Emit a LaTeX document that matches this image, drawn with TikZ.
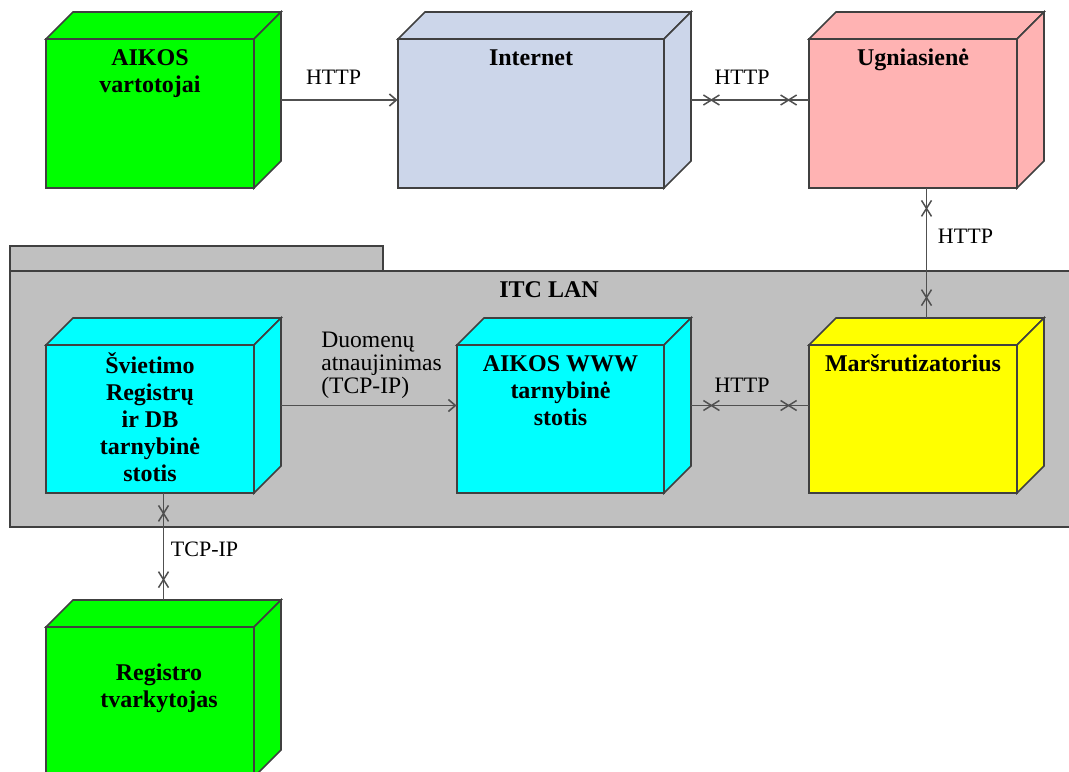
\documentclass[tikz,border=0pt]{standalone}
\usepackage{fontspec}
\setmainfont{Liberation Serif}
\usetikzlibrary{arrows.meta,decorations.markings}

\definecolor{edgegray}{HTML}{404040}
\definecolor{linkgray}{HTML}{505050}
\definecolor{devgreen}{HTML}{00FF00}
\definecolor{devcyan}{HTML}{00FFFF}
\definecolor{devyellow}{HTML}{FFFF00}
\definecolor{netblue}{HTML}{CCD6EA}
\definecolor{fwpink}{HTML}{FFB3B3}
\definecolor{langray}{HTML}{C0C0C0}

\tikzset{
	boxline/.style={draw=edgegray, line width=0.8pt, line join=miter},
	hull/.style={draw=none, inner sep=0pt, rectangle},
	devlabel/.style={font=\bfseries\fontsize{12}{13.5}\selectfont, align=center, anchor=north, inner sep=0pt},
	linklbl/.style={font=\fontsize{11}{11.3}\selectfont},
	link/.style={draw=linkgray, line width=0.8pt},
	openhead/.style={-{Straight Barb[length=3.5pt,width=6pt]}},
	xends/.style={postaction={decorate}, decoration={markings,
		mark=at position 10pt with {\draw[linkgray, line width=0.75pt] (-4pt,-2.5pt) -- (4pt,2.5pt) (-4pt,2.5pt) -- (4pt,-2.5pt);},
		mark=at position -10pt with {\draw[linkgray, line width=0.75pt] (-4pt,-2.5pt) -- (4pt,2.5pt) (-4pt,2.5pt) -- (4pt,-2.5pt);}}}
}

% name, x, y (front top left), width, height, fill, label, label shift
\newcommand{\dep}{27}
\newcommand{\devbox}[8]{%
	\filldraw[boxline, fill=#6] (#2,#3) rectangle ++(#4,#5);
	\filldraw[boxline, fill=#6] (#2,#3) -- ++(\dep,-\dep) -- ++(#4,0) -- ++(-\dep,\dep) -- cycle;
	\filldraw[boxline, fill=#6] ({#2+#4},#3) -- ++(\dep,-\dep) -- ++(0,#5) -- ++(-\dep,\dep) -- cycle;
	\node[hull, minimum width={(#4+\dep)*0.5pt}, minimum height={(#5+\dep)*0.5pt}] (#1) at ({#2+(#4+\dep)/2},{#3+(#5-\dep)/2}) {};
	\path (#2,#3) ++({#4/2},0) ++#8 node[devlabel] (#1-lbl) {\strut #7};
}

\begin{document}
\begin{tikzpicture}[x=0.5pt, y=-0.5pt]
	\useasboundingbox (0,0) rectangle (1069,771);
	\clip (0,0) rectangle (1069,771);

	% outside
	\devbox{users}{46}{39}{208}{149}{devgreen}{AIKOS\\vartotojai}{(0,7)}
	\devbox{inet}{398}{39}{266}{149}{netblue}{Internet}{(0,7)}
	\devbox{fw}{809}{39}{208}{149}{fwpink}{Ugniasienė}{(0,7)}

	% ITC LAN package
	\filldraw[boxline, fill=langray] (10,246) rectangle (383,271);
	\filldraw[boxline, fill=langray] (10,271) rectangle (1088,527);
	\node[devlabel] (lan-lbl) at (549,278) {\strut ITC LAN};

	\devbox{regsrv}{46}{345}{208}{148}{devcyan}{Švietimo\\Registrų\\ir DB\\tarnybinė\\stotis}{(0,7)}
	\devbox{websrv}{457}{345}{207}{148}{devcyan}{AIKOS WWW\\tarnybinė\\stotis}{(0,7)}
	\devbox{router}{809}{345}{208}{148}{devyellow}{Maršrutizatorius}{(0,7)}

	\devbox{keeper}{46}{627}{208}{150}{devgreen}{Registro\\tvarkytojas}{(9,34)}

	% links
	\draw[link, openhead] (users) -- node[linklbl, above=4pt, xshift=-3pt] (http-a) {HTTP} (inet);
	\draw[link, xends] (inet) -- node[linklbl, above=4pt, xshift=-4pt] (http-b) {HTTP} (fw);
	\draw[link, xends] (fw) -- node[linklbl, pos=0.37, right=2pt] (http-c) {HTTP} (router);
	\draw[link, openhead] (regsrv) -- node[linklbl, font=\fontsize{11.8}{11.3}\selectfont, pos=0.185, anchor=south west, align=left] (upd) {Duomenų\\atnaujinimas\\(TCP-IP)} (websrv);
	\draw[link, xends] (websrv) -- node[linklbl, above=3pt, xshift=-4pt] (http-d) {HTTP} (router);
	\draw[link, xends] (regsrv) -- node[linklbl, pos=0.53, right=0pt] (tcp) {TCP-IP} (keeper);
\end{tikzpicture}
\end{document}
